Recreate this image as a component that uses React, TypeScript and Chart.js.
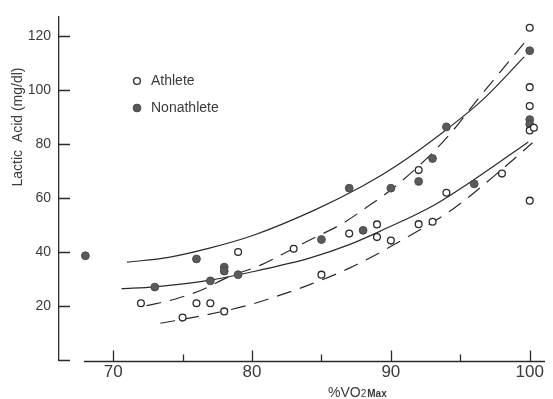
import React, { useEffect, useRef } from "react";
import { Chart, registerables } from "chart.js";

Chart.register(...registerables);

// ---- Data ----
const athleteX = [72, 75, 76, 77, 78, 79, 83, 85, 87, 89, 89, 90, 92, 93, 92, 94, 98, 100, 100, 100.3, 100, 100, 100];
const athleteY = [21, 15.7, 21, 21, 18, 40, 41.2, 31.6, 46.8, 50.2, 45.5, 44.2, 50.3, 51.2, 70.3, 61.9, 69, 59, 85, 86, 94, 101, 123];

const nonathleteX = [68, 73, 76, 77, 78, 78, 79, 85, 87, 88, 90, 92, 93, 94, 96, 100, 100, 100];
const nonathleteY = [38.6, 27, 37.4, 29.3, 34.4, 32.9, 31.6, 44.6, 63.6, 48, 63.6, 66.1, 74.6, 86.3, 65.2, 114.5, 89, 87.3];

// fitted curves
const solidUpperX = [71, 74, 77, 80, 84.5, 88, 90.4, 93.8, 96.6, 99.6];
const solidUpperY = [36.2, 38, 41.5, 46, 55.5, 64.5, 71.9, 84.5, 96.3, 112.2];

const dashedUpperX = [72.4, 74.5, 76.5, 78.2, 80.7, 82.5, 84.2, 86.5, 88.3, 90.4, 93.8, 96.6, 99.9];
const dashedUpperY = [20.1, 22.6, 26.2, 30.5, 35.3, 40, 44.5, 50.5, 56.7, 64.6, 81, 98.7, 119.2];

const solidLowerX = [70.6, 73, 77, 79.8, 84.2, 87, 89.4, 93, 96.4, 99.9];
const solidLowerY = [26.4, 27.1, 29.6, 32.4, 37.8, 42.7, 48.1, 57, 68.2, 80.7];

const dashedLowerX = [73.4, 76.5, 79.6, 81.5, 84.2, 87.05, 90.4, 94.5, 98.3, 100.2];
const dashedLowerY = [13.6, 16.5, 20.1, 23.1, 28, 34.1, 43.2, 56, 71.9, 80.4];

const xLabelTicks = [70, 80, 90, 100];
const xMinorTicks = [75, 85, 95];
const yLabelTicks = [20, 40, 60, 80, 100, 120];
const yTickMarks = [0, 20, 40, 60, 80, 100, 120];

const seriesLabels = ["Athlete", "Nonathlete"];
const yTitle = "Lactic  Acid (mg/dl)";
const xTitleMain = "%VO";
const xTitleSub = "2";
const xTitleTail = "Max";

const FONT = "'Liberation Sans', Arial, sans-serif";
const INK = "#2a2a2a";
const TEXT = "#3a3a3a";

const zip = (xs: number[], ys: number[]) => xs.map((x, i) => ({ x, y: ys[i] }));

const decorPlugin = {
  id: "decor",
  afterDraw(chart: any) {
    const ctx = chart.ctx as CanvasRenderingContext2D;
    const xs = chart.scales.x;
    const ys = chart.scales.y;
    const y0 = ys.getPixelForValue(0) + 1.5;
    const left = chart.chartArea.left;
    ctx.save();
    ctx.strokeStyle = INK;
    ctx.lineWidth = 1.3;
    // x axis line
    ctx.beginPath();
    ctx.moveTo(xs.getPixelForValue(67.9), y0);
    ctx.lineTo(xs.getPixelForValue(101.1), y0);
    ctx.stroke();
    // x ticks (pointing up)
    ctx.beginPath();
    xLabelTicks.forEach((v) => {
      const px = Math.round(xs.getPixelForValue(v)) + 0.5;
      ctx.moveTo(px, y0);
      ctx.lineTo(px, y0 - 11);
    });
    xMinorTicks.forEach((v) => {
      const px = Math.round(xs.getPixelForValue(v)) + 0.5;
      ctx.moveTo(px, y0);
      ctx.lineTo(px, y0 - 7);
    });
    ctx.stroke();
    // y ticks (pointing right)
    ctx.beginPath();
    yTickMarks.forEach((v) => {
      const py = Math.round(ys.getPixelForValue(v)) + 0.5;
      ctx.moveTo(left, py);
      ctx.lineTo(left + 11, py);
    });
    ctx.stroke();

    // y title
    ctx.fillStyle = TEXT;
    ctx.font = `14px ${FONT}`;
    ctx.textAlign = "center";
    ctx.textBaseline = "middle";
    ctx.save();
    ctx.translate(18, 127);
    ctx.rotate(-Math.PI / 2);
    ctx.fillText(yTitle, 0, 0);
    ctx.restore();

    // x title
    ctx.textAlign = "left";
    ctx.textBaseline = "alphabetic";
    let tx = 328;
    const ty = 397;
    ctx.font = `14px ${FONT}`;
    ctx.fillText(xTitleMain, tx, ty);
    tx += ctx.measureText(xTitleMain).width;
    ctx.font = `10px ${FONT}`;
    ctx.fillText(xTitleSub, tx, ty);
    tx += ctx.measureText(xTitleSub).width + 1;
    ctx.font = `bold 10px ${FONT}`;
    ctx.fillText(xTitleTail, tx, ty);

    // legend
    const lx = 137;
    const rows = [81, 108];
    const ds = chart.data.datasets;
    ctx.font = `14px ${FONT}`;
    ctx.textBaseline = "middle";
    rows.forEach((ry, i) => {
      const d = ds[i];
      ctx.beginPath();
      ctx.arc(lx, ry, d.pointRadius, 0, Math.PI * 2);
      ctx.fillStyle = d.pointBackgroundColor;
      ctx.fill();
      ctx.lineWidth = d.pointBorderWidth;
      ctx.strokeStyle = d.pointBorderColor;
      ctx.stroke();
      ctx.fillStyle = TEXT;
      ctx.fillText(seriesLabels[i], lx + 14, ry);
    });
    ctx.restore();
  },
};

export default function App() {
  const ref = useRef<HTMLCanvasElement | null>(null);
  useEffect(() => {
    if (!ref.current) return;
    const curve = (xs: number[], ys: number[], dashed: boolean) => ({
      label: "",
      data: zip(xs, ys),
      showLine: true,
      pointRadius: 0,
      borderColor: INK,
      borderWidth: 1.2,
      borderDash: dashed ? [15, 9] : [],
      cubicInterpolationMode: "monotone",
      fill: false,
    });
    const chart = new Chart(ref.current, {
      type: "scatter",
      data: {
        datasets: [
          {
            label: seriesLabels[0],
            data: zip(athleteX, athleteY),
            pointRadius: 3.4,
            pointBackgroundColor: "#ffffff",
            pointBorderColor: "#2a2a2a",
            pointBorderWidth: 1.3,
          } as any,
          {
            label: seriesLabels[1],
            data: zip(nonathleteX, nonathleteY),
            pointRadius: 3.9,
            pointBackgroundColor: "#5a5a5a",
            pointBorderColor: "#4a4a4a",
            pointBorderWidth: 1,
          } as any,
          curve(solidUpperX, solidUpperY, false) as any,
          curve(dashedUpperX, dashedUpperY, true) as any,
          curve(solidLowerX, solidLowerY, false) as any,
          curve(dashedLowerX, dashedLowerY, true) as any,
        ],
      },
      options: {
        responsive: false,
        animation: false,
        layout: { padding: { top: 12, right: 8, left: 0, bottom: 0 } },
        plugins: { legend: { display: false }, tooltip: { enabled: false } },
        scales: {
          x: {
            type: "linear",
            min: 66.1,
            max: 101.1,
            grid: { display: false, drawTicks: false },
            border: { display: false },
            ticks: {
              font: { family: FONT, size: 17 },
              color: TEXT,
              padding: 2,
              maxRotation: 0,
            },
            afterBuildTicks: (s: any) => {
              s.ticks = xLabelTicks.map((v) => ({ value: v }));
            },
            afterFit: (s: any) => {
              s.height = 39;
            },
          },
          y: {
            type: "linear",
            min: 0,
            max: 127.2,
            grid: { display: false, drawTicks: false },
            border: { display: true, color: INK, width: 1.3 },
            ticks: {
              font: { family: FONT, size: 14 },
              color: TEXT,
              padding: 8,
            },
            afterBuildTicks: (s: any) => {
              s.ticks = yLabelTicks.map((v) => ({ value: v }));
            },
            afterFit: (s: any) => {
              s.width = 59;
            },
          },
        },
      } as any,
      plugins: [decorPlugin],
    });
    return () => chart.destroy();
  }, []);
  return (
    <div style={{ position: "fixed", left: 0, top: 0, width: 553, height: 399, background: "#fff" }}>
      <canvas ref={ref} width={553} height={399} />
    </div>
  );
}
